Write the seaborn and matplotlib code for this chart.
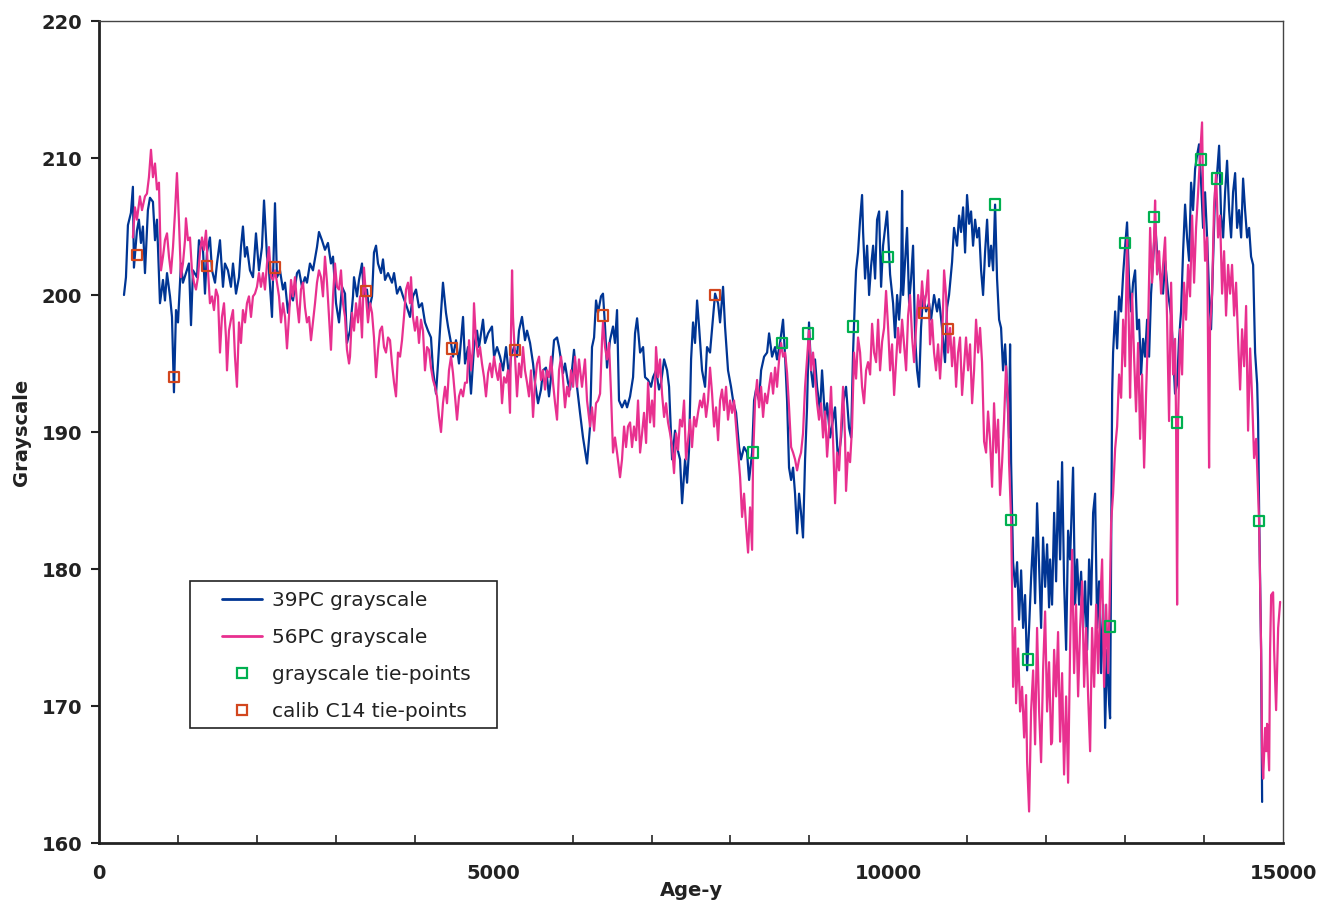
import pandas as pd
import matplotlib
matplotlib.use('Agg')
import matplotlib.pyplot as plt
from matplotlib.lines import Line2D
from matplotlib.patches import Rectangle
from matplotlib.ticker import MultipleLocator
import seaborn as sns

# --- 39PC grayscale (age in years, grayscale value) ---
age39 = [317, 342, 367, 405, 430, 443, 481, 506, 532, 557, 583, 620, 646, 684, 710, 735, 773, 811, 836, 862,
         900, 925, 950, 976, 1001, 1039, 1064, 1102, 1140, 1166, 1191, 1242, 1267, 1318, 1343, 1368, 1406, 1432,
         1470, 1495, 1533, 1571, 1596, 1634, 1672, 1698, 1736, 1774, 1799, 1824, 1850, 1875, 1913, 1951, 1989,
         2027, 2065, 2091, 2129, 2154, 2192, 2230, 2255, 2293, 2331, 2357, 2395, 2433, 2458, 2509, 2534, 2572,
         2610, 2635, 2673, 2711, 2762, 2787, 2825, 2863, 2901, 2939, 2965, 3003, 3041, 3079, 3117,
         3142, 3180, 3218, 3231, 3269, 3294, 3332, 3357, 3395, 3421, 3459, 3484, 3510, 3535, 3573, 3598, 3624,
         3662, 3712, 3738, 3776, 3814, 3852, 3902, 3940, 3978, 4016, 4054, 4092, 4130, 4168, 4206, 4232, 4270,
         4295, 4333, 4358, 4396, 4422, 4460, 4485, 4523, 4561, 4586, 4612, 4637, 4675, 4713, 4751, 4789, 4815,
         4865, 4891, 4929, 4979, 5005, 5043, 5081, 5119, 5157, 5195, 5220, 5258, 5296, 5321, 5359, 5397, 5423,
         5461, 5499, 5524, 5562, 5600, 5625, 5663, 5701, 5727, 5765, 5803, 5828, 5879, 5904, 5942,
         5968, 6018, 6056, 6094, 6132, 6183, 6221, 6246, 6272, 6297, 6322, 6360, 6385, 6411, 6436, 6474, 6512,
         6537, 6563, 6588, 6626, 6664, 6690, 6728, 6766, 6791, 6817, 6855, 6893, 6918, 6956, 6994, 7019, 7057,
         7095, 7121, 7159, 7197, 7222, 7260, 7298, 7323, 7361, 7387, 7425, 7450, 7475, 7501, 7526, 7551, 7577,
         7602, 7640, 7678, 7703, 7741, 7779, 7805, 7843, 7868, 7906, 7931, 7969, 8007, 8033, 8071, 8109, 8134,
         8172, 8210, 8236, 8274, 8299, 8324, 8362, 8388, 8426, 8464, 8489, 8527, 8565, 8590, 8628, 8666, 8692,
         8717, 8742, 8768, 8793, 8818, 8844, 8869, 8894, 8919, 8945, 8970, 8995, 9021, 9046, 9071,
         9097, 9135, 9160, 9198, 9224, 9262, 9300, 9325, 9363, 9401, 9426, 9464, 9502, 9528, 9553, 9578, 9591,
         9616, 9642, 9667, 9680, 9705, 9731, 9756, 9781, 9807, 9832, 9857, 9883, 9908, 9933, 9959, 9984, 10022,
         10060, 10085, 10111, 10136, 10161, 10174, 10187, 10212, 10237, 10263, 10288, 10313, 10339, 10364,
         10389, 10414, 10440, 10478, 10516, 10541, 10579, 10617, 10642, 10680, 10718, 10744, 10769, 10807,
         10832, 10870, 10896, 10921, 10947, 10972, 10997, 11023, 11048, 11073, 11099, 11124, 11149, 11175,
         11200, 11225, 11251, 11276, 11301, 11327, 11352, 11377, 11403, 11428, 11453, 11479, 11504, 11529,
         11542, 11555, 11580, 11606, 11631, 11656, 11682, 11707, 11732, 11758, 11783, 11808, 11834, 11859,
         11884, 11910, 11935, 11960, 11986, 12011, 12036,
         12049, 12074, 12100, 12125, 12150, 12176, 12201, 12226, 12252, 12277, 12302, 12340, 12366, 12391,
         12416, 12442, 12467, 12492, 12518, 12543, 12568, 12594, 12619, 12645, 12670, 12695, 12721, 12746,
         12771, 12797, 12809, 12822, 12835, 12847, 12873, 12898, 12923, 12949, 12974, 12999, 13024, 13050,
         13075, 13100, 13126, 13151, 13176, 13202, 13227, 13252, 13278, 13303, 13328, 13354, 13379, 13404,
         13442, 13480, 13506, 13544, 13582, 13607, 13632, 13658, 13683, 13708, 13734, 13759, 13784, 13810,
         13835, 13860, 13886, 13911, 13936, 13962, 13987, 14012, 14038, 14063, 14088, 14114, 14139, 14165,
         14190, 14215, 14241, 14266, 14291, 14317, 14342, 14367, 14393, 14418, 14443, 14469, 14494, 14519,
         14545, 14570, 14595, 14621, 14646, 14672, 14684, 14697, 14722, 14735]
gs39 = [200.0, 201.3, 205.1, 206.0, 207.9, 202.0, 204.7, 205.5, 203.8, 205.0, 201.6, 206.2, 207.1, 206.8, 204.0,
        205.5, 199.4, 201.1, 199.6, 201.6, 199.9, 198.4, 192.9, 198.9, 198.0, 202.3, 200.9, 201.6, 202.3, 197.8,
        201.8, 201.3, 204.0, 203.3, 200.1, 203.1, 204.2, 201.8, 200.9, 202.3, 204.0, 200.6, 202.3, 201.8, 200.6,
        202.3, 200.1, 201.3, 203.5, 205.0, 202.8, 203.5, 201.8, 201.3, 204.5, 201.8, 203.5, 206.9, 202.8, 201.8,
        198.4, 206.7, 201.3, 201.8, 200.4, 200.9, 198.7, 200.1, 199.6, 201.6, 201.8, 200.6, 201.3, 200.9, 202.3,
        201.8, 203.5, 204.6, 204.0, 203.3, 203.8, 202.3, 202.8, 199.4, 198.0, 200.6, 200.1,
        196.5, 197.4, 199.9, 201.3, 199.9, 201.1, 202.3, 199.9, 200.4, 198.9, 199.9, 203.1, 203.6, 202.3, 201.6,
        202.6, 201.1, 201.6, 200.9, 201.6, 200.1, 200.6, 199.9, 199.1, 198.4, 199.9, 200.4, 199.1, 199.4, 198.0,
        197.4, 196.9, 194.5, 192.8, 195.0, 198.7, 200.9, 198.7, 197.7, 196.5, 195.5, 196.7, 195.0, 196.7, 198.4,
        195.0, 196.2, 192.8, 196.2, 197.4, 196.2, 198.2, 196.5, 197.2, 197.7, 195.5, 196.2, 195.5, 194.5, 196.2,
        194.0, 195.5, 196.2, 195.5, 197.4, 198.4, 196.7, 197.4, 196.5, 195.0, 193.6, 192.1, 193.1, 194.5, 194.7,
        192.6, 194.0, 196.7, 196.9, 196.2, 194.3, 195.0, 193.6,
        193.1, 196.0, 193.3, 191.4, 189.6, 187.7, 190.4, 196.2, 196.9, 199.6, 198.7, 199.9, 200.1, 197.7, 194.7,
        196.7, 197.7, 196.5, 198.9, 192.3, 191.8, 192.3, 191.8, 192.6, 194.0, 197.2, 198.3, 195.8, 196.2, 194.0,
        193.8, 193.3, 194.0, 194.5, 193.1, 193.6, 195.3, 194.5, 193.3, 188.0, 190.1, 188.9, 188.0, 184.8, 188.0,
        186.3, 188.7, 195.3, 198.0, 196.5, 199.6, 197.7, 194.5, 193.3, 196.2, 195.8, 198.4, 200.1, 199.4, 198.0,
        200.6, 197.7, 194.5, 193.3, 192.3, 191.4, 188.9, 188.0, 188.9, 188.5, 186.5, 188.5, 192.3, 193.1, 192.3,
        194.5, 195.5, 195.8, 197.2, 195.5, 196.2, 195.3, 196.5, 198.2, 195.5, 192.3, 187.4, 186.5, 187.4, 185.5,
        182.6, 185.5, 184.1, 182.3, 188.0, 191.8, 198.0, 194.5, 193.3, 195.3,
        193.3, 191.5, 194.5, 190.9, 192.1, 189.6, 190.9, 191.8, 187.8, 189.6, 192.1, 193.3, 190.3, 189.6, 195.8,
        200.0, 201.8, 203.1, 205.5, 207.3, 204.6, 201.2, 203.6, 200.0, 202.1, 203.6, 201.2, 205.5, 206.1, 200.6,
        203.6, 204.9, 206.1, 201.5, 199.4, 196.9, 200.0, 198.2, 200.6, 207.6, 200.0, 202.4, 204.9, 199.4, 201.2,
        203.6, 196.9, 194.5, 193.3, 197.6, 200.0, 198.8, 199.4, 198.2, 200.0, 198.8, 199.7, 197.6, 195.1, 199.1,
        200.0, 202.4, 204.9, 203.6, 205.8, 204.6, 206.4, 203.1, 207.3, 205.2, 206.1, 203.6, 205.5, 204.2, 204.9,
        201.8, 200.0, 203.1, 205.5, 202.1, 203.6, 201.8, 206.6, 201.2, 198.2, 197.6, 194.5, 196.4, 193.3, 189.6,
        196.4, 187.8, 180.5, 178.7, 180.5, 176.3, 179.9, 175.7, 178.1, 172.6, 175.7, 179.3, 182.3, 177.5, 184.8,
        180.2, 175.7, 182.3, 178.7, 181.8, 177.2,
        180.7, 177.4, 184.1, 179.1, 186.4, 180.7, 187.8, 179.1, 174.1, 182.8, 180.7, 187.4, 177.4, 180.7, 177.4,
        179.8, 175.7, 179.1, 174.1, 180.7, 177.4, 184.1, 185.5, 175.7, 179.1, 172.4, 177.4, 168.4, 174.1, 170.1,
        169.1, 180.7, 192.8, 195.8, 198.8, 196.1, 199.9, 198.8, 201.5, 203.5, 205.3, 200.9, 198.8, 200.9, 201.8,
        197.5, 198.2, 194.2, 196.8, 195.5, 198.2, 195.5, 200.1, 202.5, 205.2, 203.2, 201.5, 200.1, 202.5, 200.1,
        198.5, 195.8, 192.8, 193.5, 196.8, 198.8, 203.2, 206.6, 204.2, 202.5, 208.2, 206.2, 209.2, 210.2, 211.0,
        208.2, 204.9, 207.5, 204.2, 200.1, 197.5, 202.5, 207.5, 208.9, 210.9, 205.8, 204.2, 207.5, 209.8, 206.2,
        204.2, 207.5, 208.9, 204.9, 206.2, 204.2, 208.5, 206.2, 204.2, 204.9, 202.8, 202.2, 195.8, 193.5, 190.8,
        184.1, 174.1, 163.0]

# --- 56PC grayscale ---
age56 = [430, 456, 481, 519, 545, 583, 608, 633, 659, 684, 710, 735, 760, 786, 811, 836, 862, 887, 912, 938,
         963, 988, 1014, 1039, 1064, 1090, 1102, 1128, 1153, 1178, 1204, 1229, 1254, 1280, 1305, 1330, 1356,
         1381, 1406, 1432, 1457, 1482, 1508, 1533, 1558, 1584, 1609, 1622, 1647, 1672, 1698, 1723, 1748, 1774,
         1799, 1824, 1850, 1875, 1900, 1926, 1951, 1976, 2002, 2027, 2052, 2078, 2103, 2129, 2154, 2179, 2205,
         2230, 2255, 2281, 2306, 2331, 2357, 2382, 2407, 2433, 2458, 2483, 2509, 2534, 2559, 2585, 2610, 2635,
         2661, 2686, 2711, 2737, 2762, 2787, 2813, 2838, 2863, 2889, 2914, 2939, 2965, 2990, 3015, 3041, 3066,
         3091, 3117, 3142, 3168,
         3180, 3206, 3231, 3256, 3282, 3307, 3332, 3357, 3383, 3408, 3434, 3459, 3484, 3510, 3535, 3560, 3586,
         3611, 3636, 3662, 3687, 3712, 3738, 3763, 3788, 3814, 3839, 3864, 3890, 3915, 3940, 3953, 3978, 4003,
         4029, 4054, 4079, 4105, 4130, 4156, 4181, 4206, 4232, 4257, 4282, 4308, 4333, 4358, 4384, 4409, 4434,
         4460, 4485, 4510, 4536, 4561, 4586, 4612, 4637, 4662, 4688, 4713, 4738, 4751, 4776, 4802, 4827, 4852,
         4878, 4903, 4929, 4954, 4979, 5005, 5030, 5055, 5081, 5106, 5131, 5157, 5182, 5207, 5220, 5233, 5245,
         5271, 5296, 5321, 5347, 5372, 5397, 5423, 5448, 5473, 5499, 5524, 5550, 5575, 5600, 5625, 5651, 5676,
         5701, 5727, 5752, 5778, 5803, 5828, 5854, 5879, 5904, 5930, 5955, 5980, 6006, 6031,
         6056, 6081, 6119, 6157, 6183, 6221, 6246, 6272, 6297, 6322, 6348, 6373, 6385, 6411, 6436, 6461, 6487,
         6512, 6537, 6563, 6601, 6626, 6652, 6677, 6702, 6728, 6753, 6778, 6804, 6829, 6855, 6880, 6905, 6931,
         6956, 6981, 7007, 7032, 7057, 7083, 7108, 7133, 7159, 7184, 7209, 7235, 7260, 7285, 7311, 7336, 7361,
         7387, 7412, 7437, 7463, 7488, 7513, 7539, 7564, 7589, 7615, 7640, 7665, 7691, 7716, 7741, 7767, 7792,
         7817, 7843, 7868, 7893, 7919, 7944, 7969, 7995, 8020, 8045, 8071, 8096, 8122, 8147, 8172, 8198, 8223,
         8248, 8274, 8286, 8312, 8337, 8362, 8388, 8413, 8438, 8464, 8489, 8515, 8540, 8565, 8590, 8616, 8641,
         8666, 8692, 8717, 8742, 8768, 8793, 8818, 8844, 8869, 8894, 8919, 8945, 8970, 8995, 9021, 9046, 9071,
         9097,
         9122, 9148, 9173, 9198, 9224, 9249, 9274, 9300, 9325, 9350, 9376, 9401, 9426, 9451, 9464, 9489, 9515,
         9540, 9565, 9591, 9616, 9642, 9667, 9692, 9718, 9743, 9769, 9794, 9819, 9845, 9870, 9895, 9921, 9946,
         9971, 9997, 10022, 10047, 10073, 10098, 10123, 10149, 10174, 10199, 10225, 10250, 10275, 10301, 10326,
         10351, 10377, 10402, 10427, 10452, 10478, 10503, 10528, 10554, 10579, 10604, 10630, 10655, 10680,
         10706, 10731, 10756, 10782, 10807, 10832, 10858, 10883, 10908, 10934, 10959, 10984, 11010, 11035,
         11061, 11086, 11111, 11137, 11162, 11187, 11213, 11238, 11263, 11289, 11314, 11339, 11365, 11390,
         11415, 11441, 11466, 11491, 11517, 11529, 11555, 11567, 11580, 11606, 11618, 11644, 11669, 11694,
         11720, 11745, 11758, 11783, 11808, 11834, 11859, 11884, 11910, 11935, 11960, 11986, 12011, 12036,
         12062,
         12074, 12100, 12125, 12150, 12176, 12201, 12226, 12252, 12277, 12302, 12328, 12353, 12378, 12404,
         12429, 12455, 12480, 12505, 12531, 12556, 12581, 12607, 12632, 12657, 12683, 12708, 12733, 12759,
         12784, 12809, 12822, 12847, 12873, 12898, 12923, 12949, 12974, 12999, 13024, 13050, 13062, 13088,
         13113, 13138, 13164, 13189, 13214, 13240, 13265, 13290, 13316, 13341, 13366, 13379, 13404, 13430,
         13455, 13480, 13506, 13531, 13556, 13582, 13607, 13632, 13645, 13658, 13670, 13696, 13721, 13746,
         13771, 13797, 13822, 13848, 13873, 13898, 13924, 13949, 13974, 13987, 14012, 14038, 14063, 14075,
         14101, 14126, 14152, 14177, 14202, 14228, 14253, 14278, 14304, 14329, 14354, 14380, 14405, 14430,
         14456, 14481, 14507, 14532, 14557, 14583, 14608, 14633, 14659, 14684, 14697, 14722, 14735, 14748,
         14773, 14786, 14798, 14824, 14836, 14849, 14874, 14887, 14912, 14938, 14963]
gs56 = [204.2, 206.4, 205.5, 207.2, 206.2, 207.2, 207.4, 208.6, 210.6, 208.6, 209.6, 207.7, 208.2, 201.8, 202.8,
        204.0, 204.5, 202.8, 201.6, 203.5, 206.0, 208.9, 205.3, 201.3, 202.3, 204.0, 205.6, 204.0, 204.2, 201.8,
        200.9, 200.4, 201.3, 203.1, 204.2, 203.3, 204.7, 201.8, 199.4, 199.9, 198.9, 200.4, 199.9, 195.8, 198.4,
        199.4, 196.9, 194.5, 197.4, 198.2, 198.9, 195.5, 193.3, 198.0, 196.5, 198.9, 198.0, 199.4, 199.9, 198.4,
        199.9, 200.1, 200.6, 201.6, 200.6, 201.6, 200.4, 202.3, 203.5, 201.3, 201.1, 201.8, 200.9, 199.9, 198.0,
        199.4, 198.4, 196.1, 198.4, 201.1, 199.9, 201.3, 199.4, 198.0, 200.4, 200.9, 199.1, 198.0, 198.4, 196.7,
        198.0, 199.4, 200.9, 201.8, 201.3, 199.9, 202.8, 200.9, 198.4, 196.0, 199.9, 202.3, 200.6, 200.4, 201.8,
        199.4, 198.4, 196.0, 195.0,
        195.5, 198.7, 197.4, 199.4, 198.0, 199.9, 196.9, 202.0, 199.9, 198.0, 199.4, 198.7, 196.9, 194.0, 196.0,
        197.4, 197.7, 196.2, 195.8, 196.9, 196.7, 195.0, 193.6, 192.6, 195.8, 195.5, 196.7, 198.4, 200.4, 200.9,
        199.4, 201.3, 198.4, 197.4, 198.4, 196.5, 198.2, 197.4, 194.5, 196.2, 196.0, 194.7, 193.8, 193.3, 192.6,
        191.1, 190.0, 192.1, 193.3, 192.1, 194.5, 195.5, 194.3, 192.6, 190.9, 192.6, 193.1, 192.6, 193.6, 193.6,
        196.7, 194.5, 196.2, 199.4, 196.7, 195.5, 196.2, 195.0, 194.0, 192.6, 194.3, 195.0, 194.0, 195.5, 194.5,
        193.8, 195.0, 192.1, 194.0, 193.6, 194.5, 191.4, 197.4, 201.8, 198.4, 195.5, 192.6, 195.0, 194.0, 196.2,
        194.5, 193.6, 192.6, 194.5, 191.1, 193.6, 195.0, 195.5, 193.8, 194.5, 193.1, 194.5, 194.0, 195.5, 193.6,
        192.1, 190.9, 194.5, 195.5, 193.8, 191.8, 193.3, 192.6, 194.5, 193.3, 195.5,
        193.3, 195.3, 193.3, 195.3, 192.3, 190.4, 191.8, 190.1, 192.1, 192.3, 192.8, 196.7, 198.0, 196.2, 195.3,
        196.5, 192.8, 188.5, 189.6, 188.5, 186.7, 188.0, 190.4, 188.9, 190.4, 190.7, 188.9, 190.4, 189.4, 192.3,
        188.5, 189.9, 191.4, 189.2, 193.6, 190.7, 192.3, 190.4, 196.2, 194.0, 195.3, 192.8, 191.1, 192.1, 190.7,
        189.9, 188.9, 187.0, 189.9, 188.7, 190.9, 190.4, 192.3, 188.0, 189.4, 190.9, 188.9, 191.1, 190.4, 191.4,
        192.3, 191.8, 192.8, 191.1, 192.3, 194.7, 192.8, 190.4, 191.8, 189.4, 192.3, 193.1, 191.6, 193.3, 190.9,
        192.3, 191.4, 192.3, 190.4, 188.5, 186.7, 183.8, 185.5, 183.1, 181.2, 184.5, 181.4, 188.0, 192.3, 193.8,
        191.8, 193.3, 191.1, 192.8, 192.1, 193.3, 194.3, 192.8, 194.7, 193.3, 195.3, 196.5, 195.5, 195.8, 194.3,
        191.8, 188.9, 188.5, 188.0, 187.2, 188.0, 188.5, 189.9, 193.3, 195.3, 197.4, 194.5, 195.8, 194.0, 192.1,
        190.9, 192.1, 189.6, 191.5, 188.2, 190.3, 193.3, 189.3, 184.8, 188.5, 187.2, 190.3, 193.3, 189.6, 185.7,
        188.5, 187.8, 190.3, 195.8, 193.9, 196.9, 195.8, 193.3, 192.1, 194.5, 195.1, 194.2, 197.9, 195.8, 195.1,
        198.2, 194.5, 196.6, 197.6, 200.3, 197.6, 194.5, 196.4, 192.7, 195.1, 197.6, 195.8, 198.2, 196.4, 194.5,
        198.5, 200.0, 196.9, 195.1, 197.6, 200.0, 198.5, 201.0, 199.1, 200.0, 201.8, 196.4, 198.2, 195.8, 194.5,
        196.4, 193.9, 196.4, 201.8, 200.0, 195.8, 197.6, 194.8, 196.9, 193.3, 195.8, 196.9, 192.7, 194.8, 196.9,
        194.5, 196.4, 192.1, 194.5, 198.2, 195.8, 197.6, 195.1, 189.3, 188.5, 191.5, 189.3, 186.0, 192.1, 188.5,
        190.9, 185.4, 187.8, 190.9, 194.8, 192.1, 187.8, 183.6, 178.7, 171.4, 175.7, 170.2, 174.2, 169.6, 171.4,
        167.7, 170.8, 165.9, 162.3, 169.6, 172.6, 167.2, 175.7, 169.6, 165.9, 172.6, 176.9, 169.6, 173.2, 167.2,
        167.4, 174.1, 170.7, 175.4, 167.4, 172.4, 165.0, 170.7, 164.4, 174.1, 181.4, 172.4, 177.4, 170.7, 175.7,
        179.1, 171.4, 175.7, 170.7, 166.7, 175.7, 171.4, 177.4, 172.4, 177.4, 180.7, 171.4, 177.4, 172.4, 179.1,
        183.4, 185.5, 188.8, 190.4, 194.2, 192.5, 198.2, 194.8, 204.2, 196.8, 192.5, 200.1, 195.5, 191.5, 196.5,
        189.5, 194.2, 187.4, 192.8, 197.5, 204.9, 200.9, 204.2, 206.9, 201.5, 203.2, 200.1, 202.2, 204.2, 198.2,
        190.8, 200.9, 194.2, 196.8, 190.8, 177.4, 190.8, 197.5, 194.2, 200.9, 198.2, 202.2, 199.9, 205.8, 200.9,
        204.9, 207.5, 210.2, 212.6, 207.5, 202.5, 204.2, 187.4, 197.5, 200.1, 206.5, 208.9, 204.2, 205.8, 200.1,
        203.2, 198.5, 202.2, 200.1, 202.2, 198.5, 200.9, 196.8, 193.1, 197.5, 194.8, 199.2, 190.1, 196.1, 192.5,
        188.1, 189.5, 185.5, 183.4, 174.1, 166.7, 164.7, 168.4, 166.7, 168.7, 165.3, 174.1, 178.1, 178.3, 174.1,
        169.7, 175.7, 177.6]

# --- tie points ---
gs_tie_age = [8286, 8653, 8983, 9553, 9997, 11352, 11555, 11770, 12809, 13000, 13366, 13658, 13962, 14165, 14697]
gs_tie_val = [188.5, 196.5, 197.2, 197.7, 202.8, 206.6, 183.6, 173.4, 175.8, 203.8, 205.7, 190.7, 209.9, 208.5, 183.5]
c14_tie_age = [481, 950, 1368, 2230, 3383, 4472, 5271, 6385, 7805, 10452, 10756]
c14_tie_val = [202.9, 194.0, 202.1, 202.0, 200.3, 196.1, 196.0, 198.5, 200.0, 198.7, 197.5]

blue = '#003594'
pink = '#E8308F'
green = '#00B050'
red = '#D2461E'

df39 = pd.DataFrame({'age': age39, 'gs': gs39})
df56 = pd.DataFrame({'age': age56, 'gs': gs56})
dfg = pd.DataFrame({'age': gs_tie_age, 'gs': gs_tie_val})
dfc = pd.DataFrame({'age': c14_tie_age, 'gs': c14_tie_val})

sns.set_style('white')
plt.rcParams['font.family'] = ['DejaVu Sans']

fig = plt.figure(figsize=(13.23, 9.02), dpi=100)
ax = fig.add_axes([0.0748, 0.0654, 0.895, 0.9113])

sns.lineplot(data=df39, x='age', y='gs', color=blue, lw=1.6, sort=False, estimator=None, ax=ax)
sns.lineplot(data=df56, x='age', y='gs', color=pink, lw=1.6, sort=False, estimator=None, ax=ax)
sns.scatterplot(data=dfg, x='age', y='gs', marker='s', s=55, ax=ax, zorder=5)
ax.collections[-1].set_facecolor('none')
ax.collections[-1].set_edgecolor(green)
ax.collections[-1].set_linewidth(1.6)
sns.scatterplot(data=dfc, x='age', y='gs', marker='s', s=55, ax=ax, zorder=5)
ax.collections[-1].set_facecolor('none')
ax.collections[-1].set_edgecolor(red)
ax.collections[-1].set_linewidth(1.6)

ax.set_xlim(0, 15000)
ax.set_ylim(160, 220)
ax.xaxis.set_major_locator(MultipleLocator(5000))
ax.xaxis.set_minor_locator(MultipleLocator(1000))
ax.yaxis.set_major_locator(MultipleLocator(10))

for side in ['left', 'bottom']:
    ax.spines[side].set_linewidth(2.0)
    ax.spines[side].set_color('#222222')
for side in ['top', 'right']:
    ax.spines[side].set_linewidth(1.0)
    ax.spines[side].set_color('#444444')

ax.tick_params(axis='x', which='major', direction='inout', length=10, width=1.5, pad=10,
               labelsize=14, colors='#222222')
ax.tick_params(axis='x', which='minor', direction='in', length=6, width=1.2, bottom=True)
ax.tick_params(axis='y', which='major', direction='out', length=6, width=1.5, pad=6,
               labelsize=14, colors='#222222', left=True)
for lab in ax.get_xticklabels() + ax.get_yticklabels():
    lab.set_fontweight('bold')

ax.set_xlabel('Age-y', fontsize=14, fontweight='bold', color='#222222', labelpad=-1)
ax.set_ylabel('Grayscale', fontsize=14, fontweight='bold', color='#222222', labelpad=8)

# legend box drawn separately so its padding can match the original
ax.add_patch(Rectangle((0.0769, 0.1399), 0.2593, 0.1788, transform=ax.transAxes,
                       facecolor='white', edgecolor='#222222', lw=1.2, zorder=6))
handles = [
    Line2D([], [], color=blue, lw=2),
    Line2D([], [], color=pink, lw=2),
    Line2D([], [], color=green, marker='s', ls='none', markersize=7, markerfacecolor='none', markeredgewidth=1.6),
    Line2D([], [], color=red, marker='s', ls='none', markersize=7, markerfacecolor='none', markeredgewidth=1.6),
]
labels = ['39PC grayscale', '56PC grayscale', 'grayscale tie-points', 'calib C14 tie-points']
leg = ax.legend(handles, labels, loc='lower left', bbox_to_anchor=(0.1039, 0.1486), fontsize=14.5,
                frameon=False, handlelength=2.0, handletextpad=0.5, borderpad=0,
                labelspacing=0.89, borderaxespad=0)
leg.set_zorder(7)
for t in leg.get_texts():
    t.set_color('#222222')

fig.savefig('out.png', dpi=100)
